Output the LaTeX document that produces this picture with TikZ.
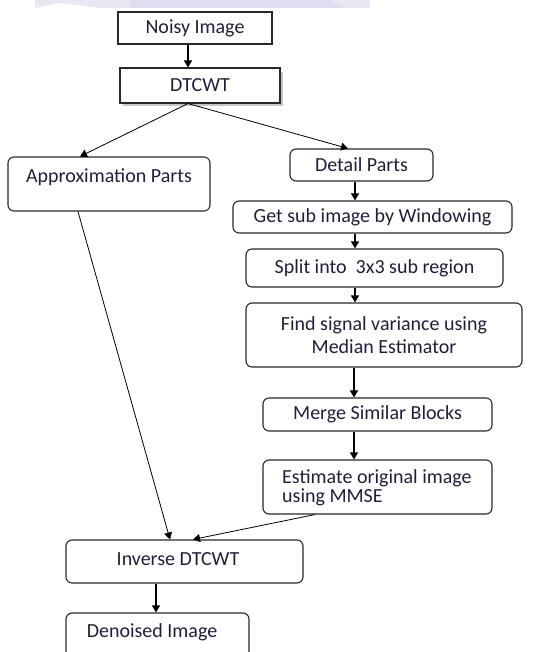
\documentclass[tikz,border=0pt]{standalone}
\usepackage{fontspec}
\setmainfont{Carlito}
\usetikzlibrary{arrows.meta,calc}
\definecolor{txt}{RGB}{35,30,55}
\definecolor{edge}{RGB}{40,40,40}
\definecolor{lav}{RGB}{222,222,240}
\begin{document}
\begin{tikzpicture}[x=1pt,y=-1pt,
  font=\fontsize{20}{22.5}\selectfont,
  sq/.style={draw=edge,line width=1.1pt,rectangle,inner sep=0pt,text=txt},
  rbox/.style={draw=edge,line width=1.1pt,rectangle,rounded corners=6pt,inner sep=0pt,text=txt},
  lbl/.style={text=txt,inner sep=0pt},
  arr/.style={draw=black,line width=1.1pt,-{Triangle[width=8pt,length=7pt]}},
  thin/.style={draw=black,line width=0.8pt,-{Triangle[width=8pt,length=7pt]}}]
\useasboundingbox (0,0) rectangle (556,652);
% faint watermark band at the top
\fill[lav!70] (35,0) -- (370,0) -- (370,8) -- (35,8) -- cycle;
\fill[lav] (130,0) -- (330,0) -- (345,8) -- (130,8) -- cycle;
\fill[white] (35,8) -- (60,3) -- (100,8) -- cycle;
% nodes
\node[sq,minimum width=154pt,minimum height=32pt] (noisy) at (195,28) {Noisy Image};
\fill[gray!45] (123,72) rectangle (283,106);
\node[sq,fill=white,minimum width=160pt,minimum height=35pt] (dt) at (200,85.5) {DTCWT};
\node[rbox,minimum width=202pt,minimum height=54pt] (apx) at (109,184) {};
\node[lbl] (apxt) at (109,177) {Approximation Parts};
\node[rbox,minimum width=143pt,minimum height=32pt] (det) at (361.5,165) {Detail Parts};
\node[rbox,minimum width=279pt,minimum height=32pt] (get) at (372.5,217) {Get sub image by Windowing};
\node[rbox,minimum width=257pt,minimum height=38pt] (spl) at (374.5,268) {Split into\ \ 3x3 sub region};
\node[rbox,minimum width=276pt,minimum height=64pt,align=center] (fnd) at (384,335) {Find signal variance using\\Median Estimator};
\node[rbox,minimum width=229pt,minimum height=33pt] (mrg) at (377.5,414.5) {Merge Similar Blocks};
\node[rbox,minimum width=229pt,minimum height=54pt] (est) at (377.5,487) {};
\node[lbl,anchor=west,align=left,font=\fontsize{20}{19.5}\selectfont] (estt) at (282,488) {Estimate original image\\using MMSE};
\node[rbox,minimum width=237pt,minimum height=43pt] (inv) at (184.5,561.5) {};
\node[lbl] (invt) at (178,559) {Inverse DTCWT};
\node[rbox,minimum width=183pt,minimum height=60pt] (den) at (157.5,643) {};
\node[lbl] (dent) at (152,632) {Denoised Image};
% connectors
\coordinate (a1) at ([xshift=-7]noisy.south);
\draw[arr] (a1) -- (a1 |- dt.north);
\coordinate (a2) at ([xshift=-12]dt.south);
\coordinate (t2) at ([xshift=-29]apx.north);
\coordinate (t3) at ([xshift=-13.5]det.north);
\draw[thin] (a2) -- (t2);
\draw[thin] (a2) -- (t3);
\coordinate (a3) at ([xshift=-6.5]det.south);
\draw[arr] (a3) -- (a3 |- get.north);
\draw[arr] (a3 |- get.south) -- (a3 |- spl.north);
\draw[arr] (a3 |- spl.south) -- (a3 |- fnd.north);
\coordinate (a4) at ([xshift=-23.5]mrg.south);
\draw[arr] (a4 |- fnd.south) -- (a4 |- mrg.north);
\draw[arr] (a4) -- (a4 |- est.north);
\coordinate (s5) at ([xshift=-31]apx.south);
\coordinate (t5) at ([xshift=-14.5]inv.north);
\draw[thin] (s5) -- (t5);
\coordinate (s6) at ([xshift=-62.5]est.south);
\coordinate (t6) at ([xshift=8.5]inv.north);
\draw[thin] (s6) -- (t6);
\coordinate (a7) at ([xshift=-28.5]inv.south);
\draw[arr] (a7) -- (a7 |- den.north);
\end{tikzpicture}
\end{document}
